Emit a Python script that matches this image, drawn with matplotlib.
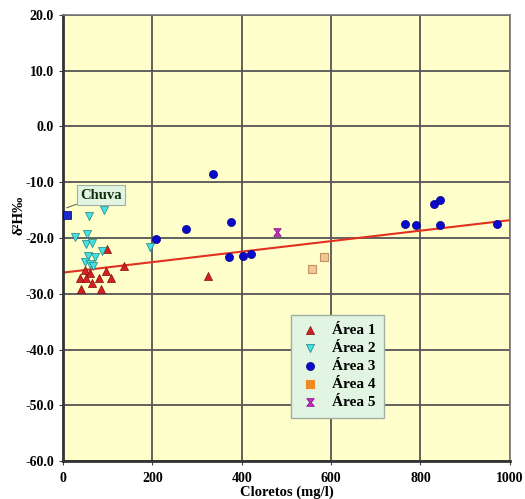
import matplotlib.pyplot as plt
from matplotlib.path import Path
import numpy as np

plt.rcParams['font.family'] = ['Liberation Serif', 'DejaVu Serif']
plt.rcParams['font.weight'] = 'bold'

# chloride (mg/l) vs delta 2H per area
area1_x = [99, 136, 49, 60, 38, 51, 80, 96, 107, 65, 40, 84, 324]
area1_y = [-22.0, -25.1, -25.7, -26.2, -27.1, -27.2, -27.1, -26.0, -27.1, -28.1, -29.2, -29.2, -26.8]
area2_x = [27, 59, 92, 54, 51, 64, 57, 72, 87, 49, 60, 68, 195]
area2_y = [-19.9, -16.1, -15.0, -19.2, -21.1, -20.9, -23.2, -23.4, -22.3, -24.3, -24.6, -25.0, -21.6]
area3_x = [336, 376, 275, 208, 372, 402, 420, 766, 791, 830, 843, 843, 972]
area3_y = [-8.5, -17.1, -18.3, -20.1, -23.4, -23.3, -22.9, -17.4, -17.7, -13.9, -13.2, -17.7, -17.4]
area4_x = [558, 584]
area4_y = [-25.6, -23.4]
area5_x = [480]
area5_y = [-18.9]
chuva_x, chuva_y = 8, -15.9

# linear fit drawn across the chart
fit_intercept = -26.2
fit_slope = 0.0094

hourglass = Path([(-1, 1), (1, 1), (0.2, 0), (1, -1), (-1, -1), (-0.2, 0), (-1, 1)],
                 [Path.MOVETO] + [Path.LINETO] * 5 + [Path.CLOSEPOLY])

fig = plt.figure(figsize=(5.25, 4.99), dpi=100)
ax = fig.add_axes([0.12, 0.076, 0.851, 0.894])
ax.set_facecolor('#ffffcc')

ax.scatter(area1_x, area1_y, marker='^', s=34, c='#d42020', edgecolors='#801010', linewidths=0.5, label='Área 1', zorder=3)
ax.scatter(area2_x, area2_y, marker='v', s=34, c='#44e0e4', edgecolors='#208080', linewidths=0.5, label='Área 2', zorder=3)
ax.scatter(area3_x, area3_y, marker='o', s=34, c='#0a0acc', edgecolors='#000080', linewidths=0.5, label='Área 3', zorder=3)
ax.scatter(area4_x, area4_y, marker='s', s=34, c='#f0c896', edgecolors='#c89060', linewidths=0.8, label='Área 4', zorder=3)
ax.scatter(area5_x, area5_y, marker=hourglass, s=30, c='#c030c0', edgecolors='#800080', linewidths=0.5, label='Área 5', zorder=3)
ax.scatter([chuva_x], [chuva_y], marker='s', s=36, c='#1a2ad0', edgecolors='#000060', linewidths=0.5, zorder=4)

xs = np.array([0, 1000])
ax.plot(xs, fit_intercept + fit_slope * xs, color='#e03020', lw=1.5, zorder=2)

ax.annotate('Chuva', xy=(chuva_x, chuva_y + 1.3), xytext=(85, -12.3), fontsize=10.5, fontweight='bold',
            color='#103010', ha='center', va='center',
            bbox=dict(boxstyle='square,pad=0.22', fc='#e2f4e2', ec='#a0b0a0', lw=0.8),
            arrowprops=dict(arrowstyle='-', color='#404040', lw=0.6, shrinkA=0, shrinkB=0))

ax.set_xlim(0, 1000)
ax.set_ylim(-60, 20)
ax.set_xticks(range(0, 1001, 200))
ax.set_yticks(range(-60, 21, 10))
ax.set_yticklabels([f'{v:.1f}' for v in range(-60, 21, 10)])
ax.tick_params(labelsize=10, length=3, color='#404040')
ax.tick_params(axis='x', pad=5)
ax.grid(True, color='#555555', lw=1.3, zorder=1)
ax.set_axisbelow(True)
for side in ['left', 'bottom']:
    ax.spines[side].set_linewidth(2)
    ax.spines[side].set_color('#333333')
for side in ['top', 'right']:
    ax.spines[side].set_linewidth(1.2)
    ax.spines[side].set_color('#777777')

ax.set_xlabel('Cloretos (mg/l)', fontsize=10.5, fontweight='bold', labelpad=0)
ax.set_ylabel('δ²H‰', fontsize=11, fontweight='bold')
ax.yaxis.set_label_coords(-0.085, 0.55)

leg = ax.legend(loc='upper left', bbox_to_anchor=(0.511, 0.327), fontsize=11, frameon=True,
                fancybox=False, facecolor='#e2f4e2', edgecolor='#a0b0a0', framealpha=1,
                handletextpad=0.7, handlelength=1.4, labelspacing=0.28, borderpad=0.55, borderaxespad=0)
leg.legend_handles[3].set_facecolor('#f08a20')
leg.legend_handles[3].set_edgecolor('#f08a20')

fig.savefig('out.png', dpi=100)
